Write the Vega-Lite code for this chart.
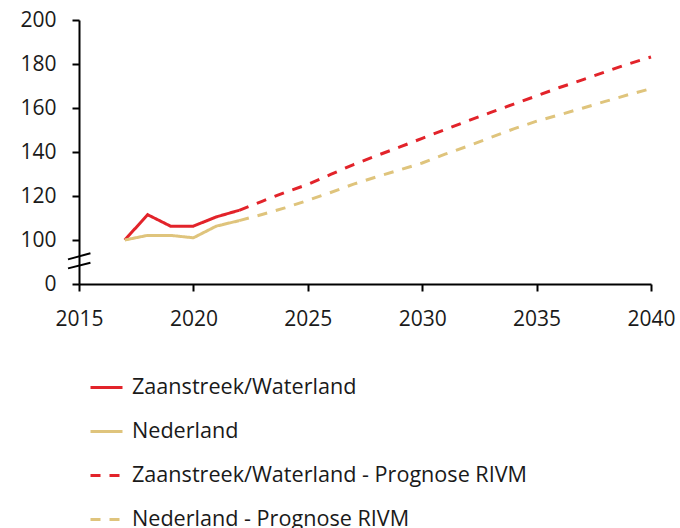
{
  "$schema": "https://vega.github.io/schema/vega-lite/v6.json",
  "width": 572,
  "height": 264,
  "autosize": {"type": "none"},
  "padding": {"left": 79, "top": 20, "right": 29, "bottom": 244},
  "background": "white",
  "config": {
    "font": "Open Sans",
    "view": {"stroke": null},
    "axis": {"grid": false, "domainColor": "#000000", "domainWidth": 2, "tickColor": "#000000", "tickWidth": 2, "tickSize": 7, "labelFontSize": 21, "labelColor": "#1a1a1a", "labelFont": "Open Sans", "title": null},
    "legend": {"orient": "none", "legendX": 10, "legendY": 350, "direction": "vertical", "columns": 1, "padding": 0, "symbolType": "stroke", "symbolSize": 1024, "symbolStrokeWidth": 3, "labelFontSize": 21.6, "labelFont": "Open Sans", "labelColor": "#1a1a1a", "labelOffset": 8, "rowPadding": 15, "labelLimit": 600, "title": null}
  },
  "datasets": {
    "lijnen": [
      {"jaar": 2017, "waarde": 100, "serie": "Zaanstreek/Waterland"},
      {"jaar": 2018, "waarde": 111.5, "serie": "Zaanstreek/Waterland"},
      {"jaar": 2019, "waarde": 106.3, "serie": "Zaanstreek/Waterland"},
      {"jaar": 2020, "waarde": 106.3, "serie": "Zaanstreek/Waterland"},
      {"jaar": 2021, "waarde": 110.5, "serie": "Zaanstreek/Waterland"},
      {"jaar": 2022, "waarde": 113.5, "serie": "Zaanstreek/Waterland"},
      {"jaar": 2017, "waarde": 100, "serie": "Nederland"},
      {"jaar": 2018, "waarde": 102.1, "serie": "Nederland"},
      {"jaar": 2019, "waarde": 102.1, "serie": "Nederland"},
      {"jaar": 2020, "waarde": 101, "serie": "Nederland"},
      {"jaar": 2021, "waarde": 106.3, "serie": "Nederland"},
      {"jaar": 2022, "waarde": 108.8, "serie": "Nederland"},
      {"jaar": 2022, "waarde": 113.5, "serie": "Zaanstreek/Waterland - Prognose RIVM"},
      {"jaar": 2023, "waarde": 117.6, "serie": "Zaanstreek/Waterland - Prognose RIVM"},
      {"jaar": 2024, "waarde": 121.6, "serie": "Zaanstreek/Waterland - Prognose RIVM"},
      {"jaar": 2025, "waarde": 125.3, "serie": "Zaanstreek/Waterland - Prognose RIVM"},
      {"jaar": 2026, "waarde": 129.8, "serie": "Zaanstreek/Waterland - Prognose RIVM"},
      {"jaar": 2027, "waarde": 134.3, "serie": "Zaanstreek/Waterland - Prognose RIVM"},
      {"jaar": 2028, "waarde": 138.3, "serie": "Zaanstreek/Waterland - Prognose RIVM"},
      {"jaar": 2029, "waarde": 142.2, "serie": "Zaanstreek/Waterland - Prognose RIVM"},
      {"jaar": 2030, "waarde": 146.2, "serie": "Zaanstreek/Waterland - Prognose RIVM"},
      {"jaar": 2031, "waarde": 150.2, "serie": "Zaanstreek/Waterland - Prognose RIVM"},
      {"jaar": 2032, "waarde": 154.2, "serie": "Zaanstreek/Waterland - Prognose RIVM"},
      {"jaar": 2033, "waarde": 158, "serie": "Zaanstreek/Waterland - Prognose RIVM"},
      {"jaar": 2034, "waarde": 161.8, "serie": "Zaanstreek/Waterland - Prognose RIVM"},
      {"jaar": 2035, "waarde": 165.5, "serie": "Zaanstreek/Waterland - Prognose RIVM"},
      {"jaar": 2036, "waarde": 169.3, "serie": "Zaanstreek/Waterland - Prognose RIVM"},
      {"jaar": 2037, "waarde": 172.8, "serie": "Zaanstreek/Waterland - Prognose RIVM"},
      {"jaar": 2038, "waarde": 176.4, "serie": "Zaanstreek/Waterland - Prognose RIVM"},
      {"jaar": 2039, "waarde": 180, "serie": "Zaanstreek/Waterland - Prognose RIVM"},
      {"jaar": 2040, "waarde": 183.2, "serie": "Zaanstreek/Waterland - Prognose RIVM"},
      {"jaar": 2022, "waarde": 108.8, "serie": "Nederland - Prognose RIVM"},
      {"jaar": 2023, "waarde": 111.6, "serie": "Nederland - Prognose RIVM"},
      {"jaar": 2024, "waarde": 114.6, "serie": "Nederland - Prognose RIVM"},
      {"jaar": 2025, "waarde": 118, "serie": "Nederland - Prognose RIVM"},
      {"jaar": 2026, "waarde": 121.6, "serie": "Nederland - Prognose RIVM"},
      {"jaar": 2027, "waarde": 125.4, "serie": "Nederland - Prognose RIVM"},
      {"jaar": 2028, "waarde": 128.7, "serie": "Nederland - Prognose RIVM"},
      {"jaar": 2029, "waarde": 131.8, "serie": "Nederland - Prognose RIVM"},
      {"jaar": 2030, "waarde": 135, "serie": "Nederland - Prognose RIVM"},
      {"jaar": 2031, "waarde": 139, "serie": "Nederland - Prognose RIVM"},
      {"jaar": 2032, "waarde": 142.7, "serie": "Nederland - Prognose RIVM"},
      {"jaar": 2033, "waarde": 146.6, "serie": "Nederland - Prognose RIVM"},
      {"jaar": 2034, "waarde": 150.5, "serie": "Nederland - Prognose RIVM"},
      {"jaar": 2035, "waarde": 154, "serie": "Nederland - Prognose RIVM"},
      {"jaar": 2036, "waarde": 156.9, "serie": "Nederland - Prognose RIVM"},
      {"jaar": 2037, "waarde": 159.9, "serie": "Nederland - Prognose RIVM"},
      {"jaar": 2038, "waarde": 163, "serie": "Nederland - Prognose RIVM"},
      {"jaar": 2039, "waarde": 166, "serie": "Nederland - Prognose RIVM"},
      {"jaar": 2040, "waarde": 168.8, "serie": "Nederland - Prognose RIVM"}
    ],
    "breuk": [
      {"x1": 2014.52, "x2": 2015.5, "y1": 91.2, "y2": 93.95},
      {"x1": 2014.52, "x2": 2015.5, "y1": 87.1, "y2": 89.7}
    ]
  },
  "layer": [
    {
      "data": {"name": "lijnen"},
      "mark": {"type": "line", "strokeWidth": 3},
      "encoding": {
        "x": {"field": "jaar", "type": "quantitative", "scale": {"domain": [2015, 2040], "nice": false, "zero": false},
              "axis": {"values": [2015, 2020, 2025, 2030, 2035, 2040], "format": "d", "labelPadding": 17, "labelFlush": false}},
        "y": {"field": "waarde", "type": "quantitative", "scale": {"domain": [80, 200], "nice": false, "zero": false},
              "axis": {"values": [80, 100, 120, 140, 160, 180, 200], "labelExpr": "datum.value == 80 ? '0' : datum.label", "labelPadding": 16}},
        "color": {"field": "serie", "type": "nominal",
                  "scale": {"domain": ["Zaanstreek/Waterland", "Nederland", "Zaanstreek/Waterland - Prognose RIVM", "Nederland - Prognose RIVM"],
                            "range": ["#E2232A", "#DFC47C", "#E2232A", "#DFC47C"]}},
        "strokeDash": {"field": "serie", "type": "nominal",
                  "scale": {"domain": ["Zaanstreek/Waterland", "Nederland", "Zaanstreek/Waterland - Prognose RIVM", "Nederland - Prognose RIVM"],
                            "range": [[1, 0], [1, 0], [10, 9], [10, 9]]}},
        "order": {"field": "jaar", "type": "quantitative"}
      }
    },
    {
      "data": {"name": "breuk"},
      "mark": {"type": "rule", "color": "#000000", "strokeWidth": 2},
      "encoding": {
        "x": {"field": "x1", "type": "quantitative"},
        "x2": {"field": "x2"},
        "y": {"field": "y1", "type": "quantitative"},
        "y2": {"field": "y2"}
      }
    }
  ]
}
